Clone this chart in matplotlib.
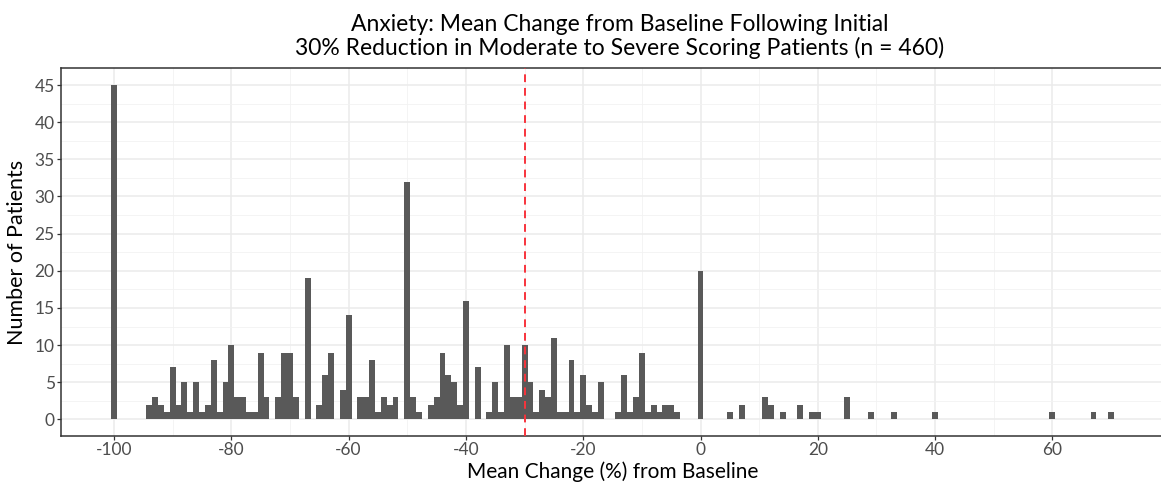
import numpy as np
import matplotlib.pyplot as plt

plt.rcParams["font.family"] = ["Lato", "DejaVu Sans"]

# Number of patients per 1 % bin of mean change (empty bins left out)
change_pct = [-100,
              -94, -93, -92, -91, -90, -89, -88, -87, -86, -85, -84, -83, -82,
              -81, -80, -79, -78, -77, -76, -75, -74, -72,
              -71, -70, -69, -67, -65, -64, -63, -61, -60, -58, -57, -56, -55,
              -54, -53, -52, -50, -49, -48,
              -46, -45, -44, -43, -42, -41, -40, -38, -36, -35, -34, -33, -32,
              -31, -30, -29, -28, -27, -26, -25, -24, -23,
              -22, -21, -20, -19, -18, -17, -14, -13, -12, -11, -10, -9, -8,
              -7, -6, -5, -4,
              0,
              5, 7, 11, 12, 14, 17, 19, 20, 25, 29, 33, 40, 60, 67, 70]
n_patients = [45,
              2, 3, 2, 1, 7, 2, 5, 1, 5, 1, 2, 8, 1,
              5, 10, 3, 3, 1, 1, 9, 3, 3,
              9, 9, 3, 19, 2, 6, 9, 4, 14, 3, 3, 8, 1,
              3, 2, 3, 32, 3, 1,
              2, 3, 9, 6, 5, 2, 16, 7, 1, 5, 1, 10, 3,
              3, 10, 5, 1, 4, 3, 11, 1, 1,
              8, 1, 6, 2, 1, 5, 1, 6, 1, 3, 9, 1, 2,
              1, 2, 2, 1,
              20,
              1, 2, 3, 2, 1, 2, 1, 1, 3, 1, 1, 1, 1, 1, 1]

threshold = -30
x_major = np.arange(-100, 61, 20)
y_major = np.arange(0, 46, 5)

title = ("Anxiety: Mean Change from Baseline Following Initial\n"
         "30% Reduction in Moderate to Severe Scoring Patients (n = 460)")

fig = plt.figure(figsize=(11.61, 4.84), dpi=100)
ax = fig.add_axes([0.0525, 0.0988, 0.9502, 0.7601])

ax.bar(change_pct, n_patients, width=1.0, color="#595959", linewidth=0, zorder=3)
ax.axvline(threshold, color="#F8333C", linestyle=(0, (4, 3)), linewidth=1.4, zorder=4)

ax.set_xlim(-109.05, 79.05)
ax.set_ylim(-2.25, 47.25)
ax.set_xticks(x_major)
ax.set_xticks(x_major[:-1] + 10, minor=True)
ax.set_yticks(y_major)
ax.set_yticks(y_major[:-1] + 2.5, minor=True)
ax.set_xticklabels([str(v) for v in x_major])

ax.grid(which="major", color="#EBEBEB", linewidth=1.1, zorder=0)
ax.grid(which="minor", color="#F2F2F2", linewidth=0.6, zorder=0)
ax.set_axisbelow(True)

for side in ["left", "top", "bottom", "right"]:
    ax.spines[side].set_color("#333333")
    ax.spines[side].set_linewidth(1.1)

ax.tick_params(which="major", direction="out", length=3, width=0.9, color="#333333",
               labelcolor="#4D4D4D", labelsize=12.5, pad=1.5)
ax.tick_params(which="minor", length=0)

ax.set_xlabel("Mean Change (%) from Baseline", fontsize=15, va="center")
ax.xaxis.set_label_coords(0.5, -0.097)
ax.set_ylabel("Number of Patients", fontsize=15.5, va="center")
ax.yaxis.set_label_coords(-0.040, 0.5)

fig.text(0.534, 0.924, title, ha="center", va="center", fontsize=16.5, linespacing=1.1)

fig.savefig("out.png", dpi=100)
